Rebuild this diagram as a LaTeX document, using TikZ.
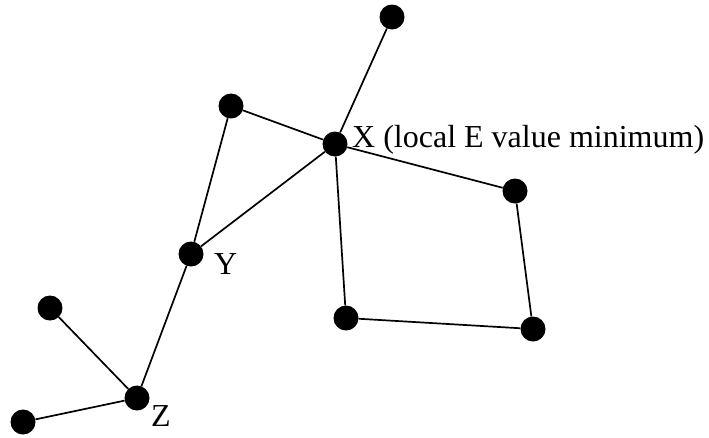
\documentclass[tikz,border=0pt]{standalone}
\usepackage{fontspec}
\setmainfont{Liberation Serif}
\begin{document}
\begin{tikzpicture}[x=1pt,y=-1pt,
  dot/.style={circle,fill=black,inner sep=0pt,minimum size=25pt},
  edge/.style={line width=1.7pt},
  lbl/.style={anchor=base west,inner sep=0pt,font=\fontsize{32}{38}\selectfont}]
\useasboundingbox (0,0) rectangle (709,437);
\node[dot] (T) at (392,17) {};
\node[dot] (A) at (231,106) {};
\node[dot] (X) at (335,144) {};
\node[dot] (R) at (515,191) {};
\node[dot] (Y) at (191,254) {};
\node[dot] (B) at (346,318) {};
\node[dot] (C) at (533,329) {};
\node[dot] (L) at (50,308) {};
\node[dot] (Z) at (137,398) {};
\node[dot] (W) at (23,422) {};
\draw[edge] (T) -- (X);
\draw[edge] (A) -- (X);
\draw[edge] (A) -- (Y);
\draw[edge] (X) -- (Y);
\draw[edge] (X) -- (R);
\draw[edge] (X) -- (B);
\draw[edge] (R) -- (C);
\draw[edge] (B) -- (C);
\draw[edge] (Y) -- (Z);
\draw[edge] (L) -- (Z);
\draw[edge] (W) -- (Z);
\node[lbl] (lx) at (352,147) {X (local E value minimum)};
\node[lbl] (ly) at (214,274) {Y};
\node[lbl] (lz) at (151,426) {Z};
\end{tikzpicture}
\end{document}
